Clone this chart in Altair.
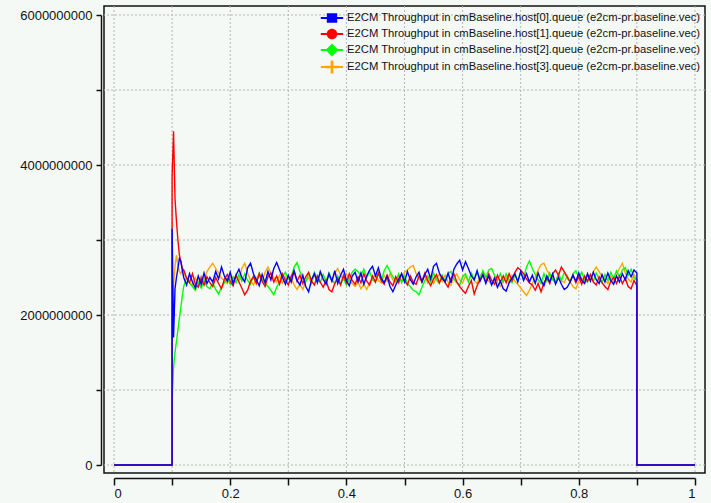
import altair as alt
import pandas as pd

FONT = "Liberation Sans"

SERIES = [
    "E2CM Throughput in cmBaseline.host[0].queue (e2cm-pr.baseline.vec)",
    "E2CM Throughput in cmBaseline.host[1].queue (e2cm-pr.baseline.vec)",
    "E2CM Throughput in cmBaseline.host[2].queue (e2cm-pr.baseline.vec)",
    "E2CM Throughput in cmBaseline.host[3].queue (e2cm-pr.baseline.vec)",
]
COLORS = ["#0000ff", "#ff0000", "#00ff00", "#ffa500"]

# legend glyphs: a short line with a marker on it (square, circle, diamond, plus)
LINE = "M-1.4,-0.125H1.4V0.125H-1.4Z"
GLYPHS = [
    LINE + "M-0.65,-0.6H0.65V0.6H-0.65Z",
    LINE + "M0.66,0A0.66,0.66 0 1,1 -0.66,0A0.66,0.66 0 1,1 0.66,0Z",
    LINE + "M0,-0.8L0.8,0L0,0.8L-0.8,0Z",
    LINE + "M-0.17,-0.8H0.17V-0.17H0.8V0.17H0.17V0.8H-0.17V0.17H-0.8V-0.17H-0.17Z",
]

# simulation time (s)
IDLE_T = [0.0, 0.1]
END_T = [0.9, 1.0]
START_T = [0.1, 0.1025, 0.105, 0.1075, 0.11, 0.1125, 0.115, 0.1175]
STEADY_T = [round(0.12 + 0.005 * k, 4) for k in range(157)]

# throughput in Gbit/s
HOST0_START = [3.15, 1.70, 2.35, 2.50, 2.62, 2.75, 2.72, 2.60]
HOST0_STEADY = [
    2.50, 2.40, 2.55, 2.44, 2.36, 2.52, 2.41, 2.56, 2.42, 2.50,
    2.44, 2.58, 2.48, 2.64, 2.52, 2.45, 2.57, 2.42, 2.53, 2.61,
    2.50, 2.44, 2.63, 2.69, 2.55, 2.47, 2.39, 2.54, 2.43, 2.58,
    2.47, 2.62, 2.70, 2.60, 2.50, 2.41, 2.53, 2.44, 2.59, 2.46,
    2.40, 2.53, 2.38, 2.31, 2.47, 2.55, 2.43, 2.58, 2.48, 2.41,
    2.55, 2.45, 2.59, 2.42, 2.53, 2.61, 2.46, 2.39, 2.52, 2.57,
    2.44, 2.56, 2.41, 2.52, 2.60, 2.65, 2.52, 2.63, 2.49, 2.43,
    2.52, 2.38, 2.31, 2.40, 2.48, 2.55, 2.44, 2.58, 2.47, 2.41,
    2.51, 2.57, 2.44, 2.54, 2.61, 2.48, 2.65, 2.69, 2.56, 2.49,
    2.44, 2.56, 2.43, 2.61, 2.68, 2.73, 2.60, 2.71, 2.62, 2.52,
    2.47, 2.59, 2.45, 2.54, 2.42, 2.52, 2.40, 2.49, 2.37, 2.45,
    2.35, 2.32, 2.43, 2.49, 2.55, 2.44, 2.58, 2.46, 2.55, 2.44,
    2.53, 2.42, 2.56, 2.46, 2.39, 2.52, 2.44, 2.55, 2.41, 2.50,
    2.41, 2.34, 2.37, 2.44, 2.53, 2.45, 2.56, 2.46, 2.42, 2.55,
    2.45, 2.57, 2.47, 2.42, 2.54, 2.44, 2.56, 2.46, 2.41, 2.52,
    2.44, 2.55, 2.47, 2.59, 2.51, 2.60, 2.56,
]

HOST1_START = [3.85, 4.45, 3.55, 3.25, 3.00, 2.80, 2.71, 2.62]
HOST1_STEADY = [
    2.60, 2.49, 2.43, 2.55, 2.41, 2.37, 2.49, 2.40, 2.51, 2.43,
    2.38, 2.50, 2.42, 2.35, 2.48, 2.54, 2.45, 2.39, 2.53, 2.44,
    2.36, 2.27, 2.33, 2.45, 2.51, 2.42, 2.55, 2.45, 2.38, 2.51,
    2.56, 2.44, 2.52, 2.41, 2.55, 2.46, 2.40, 2.52, 2.58, 2.45,
    2.53, 2.42, 2.51, 2.57, 2.45, 2.40, 2.52, 2.44, 2.37, 2.46,
    2.34, 2.31, 2.42, 2.49, 2.40, 2.53, 2.43, 2.55, 2.46, 2.41,
    2.51, 2.43, 2.55, 2.45, 2.40, 2.52, 2.44, 2.56, 2.46, 2.41,
    2.53, 2.44, 2.39, 2.51, 2.43, 2.55, 2.46, 2.40, 2.52, 2.44,
    2.41, 2.52, 2.45, 2.56, 2.46, 2.39, 2.48, 2.54, 2.43, 2.51,
    2.43, 2.37, 2.49, 2.55, 2.44, 2.38, 2.33, 2.29, 2.38, 2.46,
    2.28, 2.39, 2.47, 2.53, 2.44, 2.55, 2.46, 2.41, 2.53, 2.44,
    2.52, 2.43, 2.55, 2.46, 2.57, 2.63, 2.60, 2.55, 2.48, 2.43,
    2.40, 2.33, 2.42, 2.31, 2.43, 2.50, 2.42, 2.55, 2.60, 2.53,
    2.64, 2.58, 2.51, 2.44, 2.53, 2.43, 2.51, 2.41, 2.52, 2.45,
    2.54, 2.44, 2.40, 2.51, 2.43, 2.38, 2.34, 2.45, 2.50, 2.42,
    2.52, 2.42, 2.49, 2.38, 2.35, 2.46, 2.39,
]

HOST2_START = [0.87, 1.30, 1.50, 1.65, 1.80, 1.95, 2.10, 2.25]
HOST2_STEADY = [
    2.38, 2.50, 2.43, 2.38, 2.33, 2.44, 2.36, 2.46, 2.38, 2.35,
    2.43, 2.34, 2.28, 2.37, 2.43, 2.49, 2.41, 2.51, 2.43, 2.54,
    2.45, 2.55, 2.46, 2.41, 2.52, 2.44, 2.56, 2.47, 2.42, 2.38,
    2.33, 2.27, 2.37, 2.44, 2.51, 2.57, 2.48, 2.50, 2.64, 2.70,
    2.58, 2.50, 2.44, 2.56, 2.46, 2.57, 2.47, 2.43, 2.54, 2.45,
    2.56, 2.47, 2.42, 2.52, 2.41, 2.49, 2.40, 2.48, 2.57, 2.61,
    2.58, 2.52, 2.61, 2.50, 2.58, 2.47, 2.44, 2.56, 2.46, 2.59,
    2.66, 2.58, 2.51, 2.45, 2.55, 2.43, 2.52, 2.42, 2.38, 2.33,
    2.31, 2.27, 2.37, 2.46, 2.52, 2.44, 2.56, 2.47, 2.42, 2.53,
    2.45, 2.55, 2.58, 2.48, 2.43, 2.40, 2.51, 2.55, 2.44, 2.56,
    2.47, 2.57, 2.48, 2.59, 2.50, 2.60, 2.62, 2.53, 2.46, 2.55,
    2.44, 2.55, 2.47, 2.43, 2.54, 2.46, 2.57, 2.49, 2.64, 2.72,
    2.62, 2.54, 2.47, 2.42, 2.55, 2.45, 2.56, 2.47, 2.43, 2.55,
    2.46, 2.57, 2.49, 2.44, 2.55, 2.59, 2.50, 2.57, 2.47, 2.44,
    2.54, 2.45, 2.56, 2.48, 2.43, 2.54, 2.46, 2.57, 2.49, 2.59,
    2.51, 2.60, 2.63, 2.53, 2.61, 2.50, 2.46,
]

HOST3_START = [1.80, 2.40, 2.65, 2.80, 2.66, 2.58, 2.55, 2.60]
HOST3_STEADY = [
    2.58, 2.48, 2.43, 2.40, 2.50, 2.42, 2.52, 2.46, 2.58, 2.64,
    2.69, 2.62, 2.56, 2.49, 2.46, 2.42, 2.52, 2.44, 2.54, 2.45,
    2.62, 2.69, 2.56, 2.46, 2.40, 2.49, 2.54, 2.45, 2.57, 2.64,
    2.56, 2.50, 2.44, 2.53, 2.43, 2.51, 2.41, 2.49, 2.40, 2.34,
    2.41, 2.34, 2.45, 2.50, 2.42, 2.54, 2.45, 2.55, 2.47, 2.43,
    2.53, 2.45, 2.56, 2.62, 2.53, 2.47, 2.55, 2.46, 2.42, 2.38,
    2.44, 2.35, 2.41, 2.34, 2.43, 2.49, 2.54, 2.46, 2.43, 2.53,
    2.45, 2.55, 2.47, 2.43, 2.53, 2.45, 2.57, 2.60, 2.64, 2.66,
    2.55, 2.49, 2.44, 2.52, 2.43, 2.51, 2.42, 2.50, 2.54, 2.45,
    2.53, 2.44, 2.40, 2.50, 2.55, 2.47, 2.43, 2.52, 2.45, 2.54,
    2.46, 2.42, 2.52, 2.58, 2.50, 2.45, 2.41, 2.51, 2.43, 2.38,
    2.46, 2.51, 2.43, 2.53, 2.45, 2.41, 2.36, 2.31, 2.26, 2.33,
    2.42, 2.50, 2.60, 2.67, 2.69, 2.60, 2.53, 2.48, 2.44, 2.54,
    2.46, 2.43, 2.52, 2.44, 2.38, 2.35, 2.45, 2.50, 2.43, 2.54,
    2.48, 2.58, 2.64, 2.58, 2.51, 2.46, 2.42, 2.52, 2.44, 2.54,
    2.62, 2.69, 2.56, 2.48, 2.44, 2.54, 2.47,
]

STARTS = [HOST0_START, HOST1_START, HOST2_START, HOST3_START]
STEADIES = [HOST0_STEADY, HOST1_STEADY, HOST2_STEADY, HOST3_STEADY]

GRID_X = [0.0, 0.1, 0.2, 0.3, 0.4, 0.5, 0.6, 0.7, 0.8, 0.9, 1.0]
GRID_Y = [0, 1e9, 2e9, 3e9, 4e9, 5e9, 6e9]

rows = []
for name, start, steady in zip(SERIES, STARTS, STEADIES):
    assert len(steady) == len(STEADY_T)
    ts = IDLE_T + START_T + STEADY_T + END_T
    vs = [0.0, 0.0] + [v * 1e9 for v in start + steady] + [0.0, 0.0]
    for seq, (t, v) in enumerate(zip(ts, vs)):
        rows.append({"series": name, "t": t, "v": v, "seq": seq})
df = pd.DataFrame(rows)

x_scale = alt.Scale(domain=[0, 1], range=[10, 591], nice=False, zero=False)
y_scale = alt.Scale(domain=[0, 6e9], range=[459, 9], nice=False, zero=False)
color_scale = alt.Scale(domain=SERIES, range=COLORS)
shape_scale = alt.Scale(domain=SERIES, range=GLYPHS)

x_axis = alt.Axis(
    values=GRID_X, labelExpr="round(datum.value * 10) % 2 == 0 ? format(datum.value, '~g') : ''",
    offset=5, tickSize=7, tickWidth=1.5, tickColor="#111", domainColor="#111", domainWidth=1.5,
    labelFont=FONT, labelFontSize=13, labelColor="#111", labelPadding=2, grid=False, title=None,
)
y_axis = alt.Axis(
    values=GRID_Y, labelExpr="datum.value % 2e9 == 0 ? format(datum.value, 'd') : ''",
    offset=3, tickSize=5, tickWidth=1.5, tickColor="#111", domainColor="#111", domainWidth=1.5,
    labelFont=FONT, labelFontSize=13, labelColor="#111", labelPadding=4, grid=False, title=None,
)

legend = alt.Legend(
    title=None, orient="top-right", offset=4, padding=0, labelLimit=700,
    labelFont=FONT, labelFontSize=11.25, labelColor="#111", symbolSize=256,
    symbolStrokeWidth=0, symbolOpacity=1, labelOffset=7, rowPadding=2,
)

grid_x = alt.Chart(pd.DataFrame({"t": GRID_X})).mark_rule(
    color="#b5b5b5", strokeDash=[2, 2], strokeWidth=1
).encode(x=alt.X("t:Q", scale=x_scale, axis=x_axis))
grid_y = alt.Chart(pd.DataFrame({"v": GRID_Y})).mark_rule(
    color="#b5b5b5", strokeDash=[2, 2], strokeWidth=1
).encode(y=alt.Y("v:Q", scale=y_scale, axis=y_axis))


def series_line(name):
    return alt.Chart(df[df.series == name]).mark_line(strokeWidth=1.4).encode(
        x=alt.X("t:Q", scale=x_scale, axis=x_axis),
        y=alt.Y("v:Q", scale=y_scale, axis=y_axis),
        color=alt.Color("series:N", scale=color_scale, legend=legend),
        order="seq:Q",
    )


# invisible points that carry the legend's marker shapes
keys = alt.Chart(df[df.seq == 0]).mark_point(filled=True, opacity=0).encode(
    x=alt.X("t:Q", scale=x_scale, axis=x_axis),
    y=alt.Y("v:Q", scale=y_scale, axis=y_axis),
    color=alt.Color("series:N", scale=color_scale, legend=legend),
    shape=alt.Shape("series:N", scale=shape_scale, legend=legend),
)

chart = alt.layer(
    grid_x, grid_y,
    series_line(SERIES[3]), series_line(SERIES[2]), series_line(SERIES[1]), series_line(SERIES[0]),
    keys,
).properties(
    width=601, height=467,
    padding={"left": 104, "top": 6, "right": 6, "bottom": 30},
    autosize=alt.AutoSizeParams(type="none"),
    background="#f5f9f6",
).configure_view(
    stroke="#111", strokeWidth=1.5, fill="#f5f9f6",
)

chart.save("out.html", embed_options={"renderer": "svg", "actions": False})
